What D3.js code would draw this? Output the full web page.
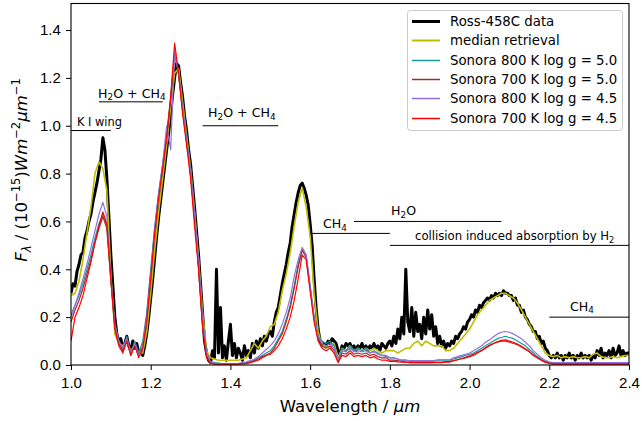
<!DOCTYPE html>
<html>
<head>
<meta charset="utf-8">
<script src="https://cdn.jsdelivr.net/npm/d3@7"></script>
<style>
  body { margin: 0; background: #fff; }
  svg { font-family: 'DejaVu Sans', sans-serif; }
</style>
</head>
<body>
<svg id="chart"></svg>
<script>
// wavelength grids: models / retrieval every 0.01 um, data every 0.005 um, all from 1.0 um
let gridStart = 1.0
let modelStep = 0.01
let dataStep = 0.005

// Ross-458C observed spectrum (1e-15 W m-2 um-1)
let ross = [
  0.30,0.34,0.33,0.39,0.42,0.46,0.47,0.53,0.56,0.60,
  0.63,0.68,0.72,0.76,0.81,0.86,0.95,0.90,0.78,0.62,
  0.46,0.33,0.20,0.13,0.10,0.11,0.07,0.09,0.12,0.08,
  0.06,0.10,0.07,0.09,0.05,0.06,0.04,0.08,0.13,0.20,
  0.28,0.36,0.45,0.54,0.62,0.69,0.76,0.83,0.90,0.97,
  1.05,1.13,1.20,1.26,1.25,1.18,1.12,1.04,0.98,0.90,
  0.84,0.75,0.66,0.56,0.46,0.34,0.22,0.10,0.05,0.02,
  0.01,0.06,0.03,0.40,0.05,0.24,0.03,0.08,0.02,0.10,
  0.17,0.04,0.09,0.03,0.07,0.05,0.02,0.08,0.04,0.06,
  0.03,0.09,0.05,0.10,0.07,0.11,0.08,0.12,0.10,0.13,
  0.14,0.12,0.18,0.22,0.24,0.29,0.34,0.38,0.42,0.47,
  0.51,0.58,0.63,0.68,0.72,0.75,0.76,0.74,0.71,0.67,
  0.59,0.50,0.36,0.24,0.15,0.10,0.08,0.09,0.08,0.10,
  0.09,0.11,0.10,0.09,0.06,0.04,0.08,0.07,0.09,0.08,
  0.09,0.07,0.08,0.06,0.08,0.07,0.09,0.07,0.08,0.06,
  0.08,0.07,0.09,0.07,0.08,0.06,0.09,0.08,0.07,0.09,
  0.10,0.08,0.12,0.09,0.15,0.11,0.20,0.13,0.40,0.18,
  0.14,0.24,0.12,0.22,0.14,0.17,0.11,0.20,0.13,0.23,
  0.15,0.21,0.12,0.16,0.09,0.12,0.08,0.10,0.07,0.09,
  0.08,0.10,0.09,0.12,0.11,0.13,0.14,0.16,0.15,0.18,
  0.19,0.21,0.20,0.23,0.22,0.25,0.24,0.26,0.27,0.28,
  0.27,0.29,0.28,0.30,0.29,0.30,0.29,0.31,0.30,0.30,
  0.29,0.29,0.27,0.28,0.25,0.25,0.22,0.23,0.20,0.19,
  0.17,0.16,0.14,0.14,0.11,0.12,0.09,0.10,0.07,0.06,
  0.04,0.03,0.04,0.03,0.05,0.03,0.04,0.02,0.04,0.03,
  0.05,0.03,0.04,0.02,0.04,0.03,0.05,0.03,0.04,0.03,
  0.04,0.02,0.04,0.03,0.06,0.04,0.07,0.03,0.05,0.04,
  0.06,0.03,0.07,0.04,0.05,0.08,0.04,0.06,0.04,0.05,
  0.05
]

let medianRetrieval = [
  0.29,0.30,0.35,0.44,0.55,0.66,0.80,0.85,0.82,0.73,
  0.38,0.13,0.09,0.08,0.10,0.06,0.08,0.05,0.05,0.14,
  0.30,0.48,0.64,0.78,0.92,1.08,1.22,1.24,1.10,0.96,
  0.82,0.64,0.44,0.22,0.06,0.03,0.025,0.02,0.02,0.02,
  0.02,0.02,0.02,0.025,0.03,0.06,0.09,0.07,0.10,0.12,
  0.16,0.17,0.22,0.31,0.38,0.47,0.58,0.68,0.74,0.66,
  0.54,0.30,0.14,0.08,0.08,0.07,0.09,0.03,0.07,0.06,
  0.08,0.06,0.07,0.06,0.07,0.06,0.07,0.06,0.05,0.06,
  0.06,0.06,0.05,0.06,0.07,0.07,0.09,0.10,0.08,0.10,
  0.09,0.08,0.08,0.08,0.06,0.06,0.07,0.09,0.11,0.13,
  0.15,0.18,0.21,0.23,0.25,0.27,0.28,0.29,0.30,0.30,
  0.29,0.28,0.26,0.23,0.20,0.17,0.14,0.11,0.08,0.05,
  0.04,0.035,0.04,0.03,0.035,0.03,0.035,0.03,0.03,0.035,
  0.03,0.045,0.05,0.035,0.03,0.03,0.035,0.03,0.035,0.04,
  0.04
]

let sonora800g50 = [
  0.21,0.25,0.29,0.34,0.40,0.46,0.53,0.59,0.63,0.58,
  0.36,0.17,0.10,0.07,0.12,0.05,0.10,0.05,0.10,0.22,
  0.40,0.58,0.72,0.84,0.96,1.12,1.30,1.22,1.08,0.95,
  0.82,0.64,0.45,0.20,0.05,0.015,0.01,0.008,0.006,0.005,
  0.005,0.005,0.006,0.008,0.01,0.015,0.02,0.03,0.04,0.05,
  0.06,0.08,0.11,0.14,0.19,0.25,0.33,0.42,0.49,0.46,
  0.33,0.20,0.12,0.10,0.09,0.10,0.08,0.02,0.07,0.06,
  0.08,0.06,0.07,0.06,0.07,0.05,0.06,0.05,0.04,0.04,
  0.03,0.03,0.025,0.02,0.02,0.015,0.015,0.015,0.015,0.015,
  0.015,0.015,0.02,0.02,0.02,0.02,0.025,0.03,0.035,0.04,
  0.045,0.05,0.06,0.07,0.08,0.09,0.10,0.11,0.115,0.12,
  0.115,0.11,0.10,0.09,0.08,0.065,0.05,0.035,0.025,0.015,
  0.01,0.008,0.008,0.008,0.008,0.008,0.008,0.008,0.008,0.008,
  0.008,0.008,0.008,0.008,0.008,0.008,0.008,0.008,0.008,0.008,
  0.008
]

let sonora700g50 = [
  0.18,0.23,0.27,0.32,0.38,0.44,0.51,0.57,0.62,0.57,
  0.35,0.16,0.09,0.06,0.11,0.04,0.09,0.04,0.08,0.20,
  0.38,0.56,0.71,0.83,0.95,1.11,1.31,1.21,1.06,0.93,
  0.80,0.61,0.42,0.18,0.04,0.01,0.006,0.005,0.005,0.005,
  0.005,0.005,0.005,0.006,0.008,0.012,0.018,0.025,0.035,0.042,
  0.05,0.07,0.10,0.13,0.18,0.24,0.32,0.41,0.48,0.45,
  0.32,0.19,0.11,0.08,0.07,0.08,0.06,0.015,0.05,0.045,
  0.06,0.045,0.05,0.045,0.05,0.04,0.045,0.035,0.03,0.03,
  0.02,0.02,0.018,0.015,0.012,0.01,0.01,0.01,0.01,0.01,
  0.01,0.01,0.012,0.012,0.014,0.015,0.018,0.022,0.026,0.03,
  0.035,0.04,0.05,0.06,0.07,0.08,0.09,0.095,0.10,0.10,
  0.095,0.09,0.085,0.075,0.065,0.055,0.04,0.03,0.02,0.012,
  0.008,0.005,0.005,0.005,0.005,0.005,0.005,0.005,0.005,0.005,
  0.005,0.005,0.005,0.005,0.005,0.005,0.005,0.005,0.005,0.005,
  0.005
]

let sonora800g45 = [
  0.20,0.25,0.30,0.36,0.42,0.49,0.56,0.63,0.68,0.62,
  0.37,0.17,0.10,0.07,0.11,0.05,0.09,0.04,0.08,0.20,
  0.38,0.57,0.72,0.84,1.00,0.90,1.31,1.22,1.07,0.94,
  0.81,0.63,0.44,0.19,0.05,0.012,0.008,0.006,0.006,0.006,
  0.006,0.006,0.007,0.01,0.013,0.018,0.025,0.035,0.05,0.065,
  0.08,0.10,0.13,0.17,0.22,0.28,0.37,0.44,0.49,0.46,
  0.33,0.20,0.12,0.09,0.08,0.09,0.07,0.02,0.06,0.055,
  0.07,0.055,0.06,0.055,0.06,0.05,0.055,0.045,0.04,0.035,
  0.03,0.03,0.025,0.02,0.02,0.018,0.018,0.018,0.018,0.018,
  0.018,0.018,0.022,0.022,0.022,0.022,0.03,0.035,0.04,0.045,
  0.05,0.06,0.07,0.08,0.095,0.105,0.118,0.13,0.137,0.14,
  0.137,0.13,0.12,0.11,0.095,0.08,0.06,0.045,0.03,0.02,
  0.013,0.01,0.01,0.01,0.01,0.01,0.01,0.01,0.01,0.01,
  0.01,0.01,0.01,0.01,0.01,0.01,0.01,0.01,0.01,0.01,
  0.01
]

let sonora700g45 = [
  0.10,0.20,0.24,0.29,0.36,0.43,0.51,0.58,0.64,0.59,
  0.36,0.15,0.08,0.05,0.10,0.04,0.08,0.03,0.07,0.18,
  0.36,0.55,0.70,0.82,0.95,1.12,1.345,1.22,1.05,0.92,
  0.78,0.58,0.40,0.16,0.03,0.008,0.004,0.004,0.004,0.004,
  0.004,0.004,0.004,0.005,0.006,0.01,0.015,0.02,0.03,0.04,
  0.045,0.06,0.08,0.11,0.15,0.20,0.27,0.36,0.46,0.44,
  0.31,0.18,0.10,0.07,0.06,0.07,0.05,0.01,0.04,0.035,
  0.05,0.035,0.04,0.035,0.04,0.03,0.035,0.025,0.02,0.02,
  0.015,0.015,0.013,0.012,0.012,0.01,0.01,0.01,0.01,0.01,
  0.01,0.01,0.01,0.01,0.012,0.012,0.018,0.022,0.027,0.032,
  0.038,0.045,0.053,0.062,0.072,0.082,0.09,0.098,0.103,0.105,
  0.10,0.095,0.088,0.078,0.068,0.056,0.042,0.03,0.02,0.012,
  0.007,0.004,0.004,0.004,0.004,0.004,0.004,0.004,0.004,0.004,
  0.004,0.004,0.004,0.004,0.004,0.004,0.004,0.004,0.004,0.004,
  0.004
]

let seriesNames = ['Ross-458C data', 'median retrieval', 'Sonora 800 K log g = 5.0',
                   'Sonora 700 K log g = 5.0', 'Sonora 800 K log g = 4.5', 'Sonora 700 K log g = 4.5']
let xTicks = [1.0, 1.2, 1.4, 1.6, 1.8, 2.0, 2.2, 2.4]
let yTicks = [0.0, 0.2, 0.4, 0.6, 0.8, 1.0, 1.2, 1.4]

// feature labels: text, line start, line end, line level, text x, text baseline (data units)
let featureLabels = ['K I wing', 'H_2O + CH_4', 'H_2O + CH_4', 'CH_4', 'H_2O', 'collision induced absorption by H_2', 'CH_4']
let featureX0 = [1.0, 1.07, 1.33, 1.60, 1.71, 1.80, 2.20]
let featureX1 = [1.10, 1.23, 1.52, 1.80, 2.08, 2.40, 2.40]
let featureY = [0.98, 1.10, 1.00, 0.55, 0.60, 0.50, 0.20]
let featureTextX = [1.015, 1.068, 1.344, 1.632, 1.803, 1.863, 2.252]
let featureTextY = [1.0, 1.118, 1.035, 0.571, 0.627, 0.522, 0.227]

let width = 642
let height = 421
let margin = {left: 71, right: 13, top: 3.5, bottom: 56}

let svg = d3.select('#chart').attr('width', width).attr('height', height)

let xScale = d3.scaleLinear().domain([1.0, 2.4]).range([margin.left, width - margin.right])
let yScale = d3.scaleLinear().domain([0, 1.511]).range([height - margin.bottom, margin.top])

// write text with sub / sup / italic pieces as tspans
let richText = (sel, parts, size) => {
    let shift = 0
    parts.forEach(p => {
        let target = p.s == 'sub' ? size * 0.22 : (p.s == 'sup' ? -size * 0.42 : 0)
        let ts = sel.append('tspan').attr('dy', target - shift).text(p.t)
        shift = target
        if (p.s) ts.style('font-size', (size * 0.7) + 'px')
        if (p.i) ts.style('font-style', 'italic')
    })
}

let parseLabel = (str) => {
    let parts = []
    str.split(/(_\d)/).forEach(piece => {
        if (piece == '') return
        if (piece[0] == '_') parts.push({t: piece.slice(1), s: 'sub'})
        else parts.push({t: piece})
    })
    return parts
}

svg.append('defs').append('clipPath').attr('id', 'plotclip')
   .append('rect')
   .attr('x', margin.left).attr('y', margin.top)
   .attr('width', width - margin.left - margin.right)
   .attr('height', height - margin.top - margin.bottom)

let plot = svg.append('g').attr('clip-path', 'url(#plotclip)')

let makeLine = (step) => d3.line()
    .x((d, i) => xScale(gridStart + i * step))
    .y(d => yScale(d))

let series = [
    {name: seriesNames[0], values: ross, step: dataStep, color: '#000000', lw: 3},
    {name: seriesNames[1], values: medianRetrieval, step: modelStep, color: '#bfbf00', lw: 1.6},
    {name: seriesNames[2], values: sonora800g50, step: modelStep, color: '#129a9a', lw: 1.2},
    {name: seriesNames[3], values: sonora700g50, step: modelStep, color: '#a52a2a', lw: 1.2},
    {name: seriesNames[4], values: sonora800g45, step: modelStep, color: '#9370db', lw: 1.2},
    {name: seriesNames[5], values: sonora700g45, step: modelStep, color: '#ff0000', lw: 1.2}
]

series.forEach(s => {
    plot.append('path')
        .datum(s.values)
        .attr('d', makeLine(s.step))
        .attr('fill', 'none')
        .attr('stroke', s.color)
        .attr('stroke-width', s.lw)
        .attr('stroke-linejoin', 'round')
})

// feature annotations
featureLabels.forEach((lab, i) => {
    plot.append('line')
        .attr('x1', xScale(featureX0[i])).attr('x2', xScale(featureX1[i]))
        .attr('y1', yScale(featureY[i])).attr('y2', yScale(featureY[i]))
        .attr('stroke', '#000').attr('stroke-width', 1)
    let size = i == 0 ? 11.4 : (i == 5 ? 11.7 : 12.6)
    let t = svg.append('text')
        .attr('x', xScale(featureTextX[i]))
        .attr('y', yScale(featureTextY[i]))
        .style('font-size', size + 'px')
        .attr('fill', '#000')
    richText(t, parseLabel(lab), size)
})

// axes
let xAxis = d3.axisBottom(xScale).tickValues(xTicks).tickFormat(d3.format('.1f')).tickSizeOuter(0).tickSize(5)
let yAxis = d3.axisLeft(yScale).tickValues(yTicks).tickFormat(d3.format('.1f')).tickSizeOuter(0).tickSize(5)

let gx = svg.append('g')
   .attr('transform', 'translate(0,' + (height - margin.bottom) + ')')
   .call(xAxis)
let gy = svg.append('g')
   .attr('transform', 'translate(' + margin.left + ',0)')
   .call(yAxis)

gx.select('.domain').remove()
gy.select('.domain').remove()
gx.selectAll('text').style('font-size', '15px').attr('dy', '1.0em').attr('fill', '#000')
gy.selectAll('text').style('font-size', '15px').attr('dx', '-0.15em').attr('fill', '#000')
svg.selectAll('.tick line').attr('stroke', '#000').attr('stroke-width', 1)

svg.append('rect')
   .attr('x', margin.left).attr('y', margin.top)
   .attr('width', width - margin.left - margin.right)
   .attr('height', height - margin.top - margin.bottom)
   .attr('fill', 'none').attr('stroke', '#000').attr('stroke-width', 1.1)

svg.append('text')
   .attr('x', (margin.left + width - margin.right) / 2)
   .attr('y', 412)
   .attr('text-anchor', 'middle')
   .style('font-size', '16.5px')
   .call(t => richText(t, [{t: 'Wavelength / '}, {t: 'μm', i: true}], 16.5))

let ylab = svg.append('text')
   .attr('transform', 'translate(27,' + 170 + ') rotate(-90)')
   .attr('text-anchor', 'middle')
   .style('font-size', '16.5px')
richText(ylab, [
    {t: 'F', i: true}, {t: 'λ', s: 'sub', i: true}, {t: ' / (10'}, {t: '−15', s: 'sup'},
    {t: ')'}, {t: 'Wm', i: true}, {t: '−2', s: 'sup'}, {t: 'μm', i: true}, {t: '−1', s: 'sup'}
], 16.5)

// legend
let legend = svg.append('g')
legend.append('rect')
   .attr('x', 407.5).attr('y', 10.5).attr('width', 215).attr('height', 120)
   .attr('rx', 3)
   .attr('fill', '#fff').attr('fill-opacity', 0.85)
   .attr('stroke', '#cccccc').attr('stroke-width', 1)

series.forEach((s, i) => {
    let y = Math.round(21 + i * 19.3)
    legend.append('line')
        .attr('x1', 412).attr('x2', 440).attr('y1', y + 0.5).attr('y2', y + 0.5)
        .attr('stroke', s.color).attr('stroke-width', i == 0 ? 3 : (i == 1 ? 2 : 1.5))
    legend.append('text')
        .attr('x', 450).attr('y', y + 5)
        .style('font-size', '13.3px')
        .text(s.name)
})
</script>
</body>
</html>
